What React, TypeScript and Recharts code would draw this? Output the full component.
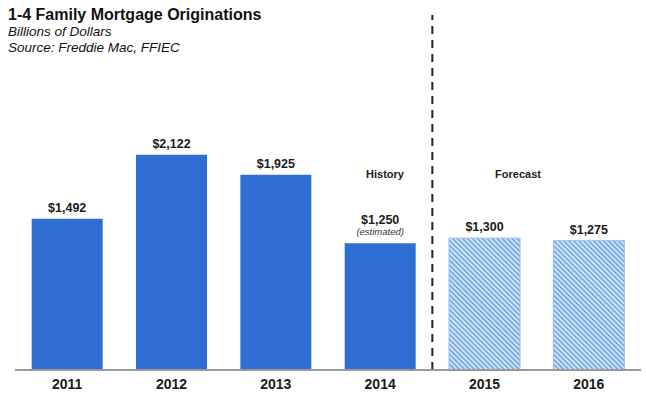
import React from "react";
import { Bar, BarChart, Cell, LabelList, ReferenceLine, XAxis, YAxis } from "recharts";

const years = ["2011", "2012", "2013", "2014", "2015", "2016"];
const originations = [1492, 2122, 1925, 1250, 1300, 1275];
const isForecast = [false, false, false, false, true, true];
const notes = ["", "", "", "(estimated)", "", ""];

const data = years.map((year, i) => ({
  year,
  value: originations[i],
  forecast: isForecast[i],
  note: notes[i],
}));

const FONT = '"Liberation Sans", Arial, sans-serif';

function ValueLabel(props: any) {
  const { x, y, width, value, index } = props;
  const cx = x + width / 2;
  const note = notes[index];
  const label = "$" + Number(value).toLocaleString("en-US");
  return (
    <g>
      <text
        x={cx}
        y={note ? y - 19 : y - 7}
        textAnchor="middle"
        fontFamily={FONT}
        fontWeight="bold"
        fontSize={12.5}
        fill="#1a1a1a"
      >
        {label}
      </text>
      {note && (
        <text
          x={cx}
          y={y - 8}
          textAnchor="middle"
          fontFamily={FONT}
          fontStyle="italic"
          fontSize={9.5}
          fill="#333"
        >
          {note}
        </text>
      )}
    </g>
  );
}

export default function App() {
  return (
    <div
      style={{
        position: "absolute",
        top: 0,
        left: 0,
        width: 646,
        height: 398,
        background: "#fff",
        fontFamily: FONT,
      }}
    >
      <svg width={0} height={0} style={{ position: "absolute" }}>
        <defs>
          <pattern
            id="hatch"
            patternUnits="userSpaceOnUse"
            width={3.5}
            height={3.5}
            patternTransform="rotate(-45)"
          >
            <rect width={3.5} height={3.5} fill="#d3e5f8" />
            <rect width={1.6} height={3.5} fill="#6ea5e2" />
          </pattern>
        </defs>
      </svg>

      <div style={{ position: "absolute", left: 8, top: 5, color: "#111" }}>
        <div style={{ fontSize: 16, fontWeight: "bold", lineHeight: "19px" }}>
          1-4 Family Mortgage Originations
        </div>
        <div style={{ fontSize: 13.5, fontStyle: "italic", lineHeight: "16px" }}>
          Billions of Dollars
        </div>
        <div style={{ fontSize: 13.5, fontStyle: "italic", lineHeight: "16px" }}>
          Source: Freddie Mac, FFIEC
        </div>
      </div>

      <div
        style={{
          position: "absolute",
          left: 385,
          top: 168,
          transform: "translateX(-50%)",
          fontSize: 11,
          fontWeight: "bold",
          color: "#222",
        }}
      >
        History
      </div>
      <div
        style={{
          position: "absolute",
          left: 518,
          top: 168,
          transform: "translateX(-50%)",
          fontSize: 11,
          fontWeight: "bold",
          color: "#222",
        }}
      >
        Forecast
      </div>

      <div style={{ position: "absolute", left: 0, top: 0 }}>
        <BarChart
          width={646}
          height={398}
          data={data}
          margin={{ top: 15, right: 5, left: 15, bottom: 0 }}
          barCategoryGap="16%"
        >
          <XAxis
            dataKey="year"
            height={28}
            tickLine={false}
            tickSize={0}
            tickMargin={9}
            axisLine={{ stroke: "#999", strokeWidth: 2 }}
            tick={{ fontFamily: FONT, fontWeight: "bold", fontSize: 14, fill: "#1a1a1a" }}
          />
          <YAxis hide domain={[0, 3500]} />
          <ReferenceLine
            x="2014"
            position="end"
            stroke="#222"
            strokeWidth={2}
            strokeDasharray="8 6"
          />
          <Bar dataKey="value" isAnimationActive={false}>
            {data.map((d) => (
              <Cell
                key={d.year}
                fill={d.forecast ? "url(#hatch)" : "#2f6fd4"}
                stroke={d.forecast ? "#9bbce6" : "none"}
                strokeWidth={1}
              />
            ))}
            <LabelList dataKey="value" content={<ValueLabel />} />
          </Bar>
        </BarChart>
      </div>
    </div>
  );
}
